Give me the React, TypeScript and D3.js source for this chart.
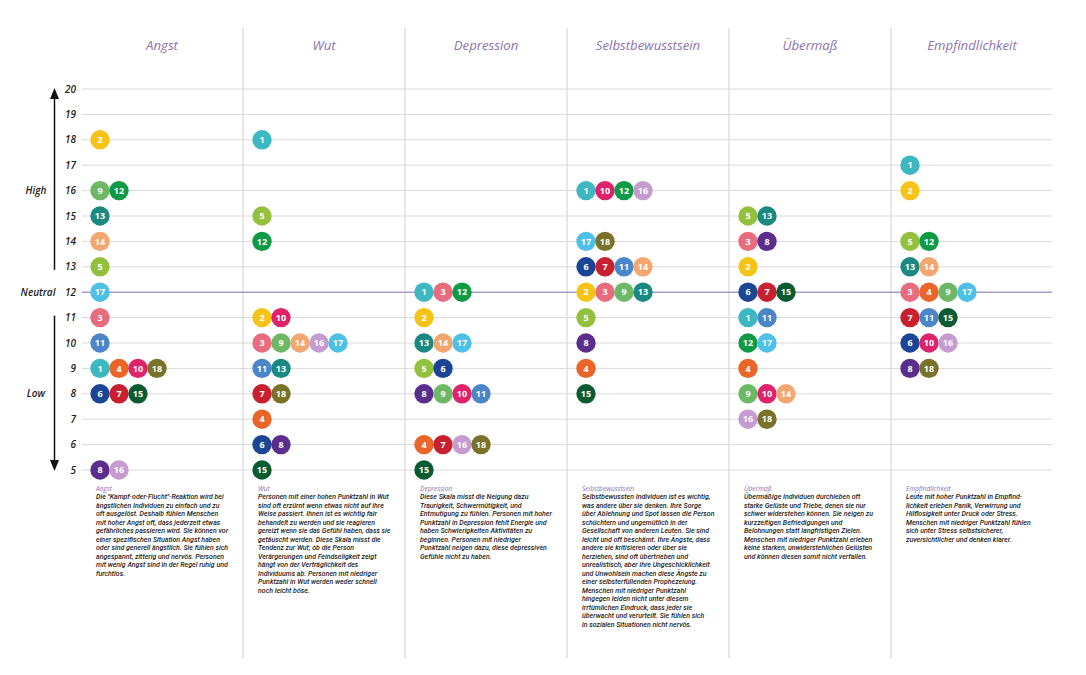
import React from "react";
import * as d3 from "d3";

const categories = ["Angst", "Wut", "Depression", "Selbstbewusstsein", "Übermaß", "Empfindlichkeit"];
const yTicks = [5, 6, 7, 8, 9, 10, 11, 12, 13, 14, 15, 16, 17, 18, 19, 20];
const levelLabels = [
  { label: "High", value: 16 },
  { label: "Neutral", value: 12 },
  { label: "Low", value: 8 },
];

const personColors: Record<number, string> = {
  1: "#3db8c1",
  2: "#f6c319",
  3: "#e96c7e",
  4: "#ea6528",
  5: "#93c13d",
  6: "#1d4596",
  7: "#c9202f",
  8: "#5b2d8c",
  9: "#6db865",
  10: "#df236b",
  11: "#4b86c8",
  12: "#0f9a47",
  13: "#1b8982",
  14: "#f2a771",
  15: "#0b5b30",
  16: "#c59bd0",
  17: "#4ec0e8",
  18: "#7a7228",
};

// score -> participants, per category
const angst: [number, number[]][] = [
  [18, [2]], [16, [9, 12]], [15, [13]], [14, [14]], [13, [5]], [12, [17]],
  [11, [3]], [10, [11]], [9, [1, 4, 10, 18]], [8, [6, 7, 15]], [5, [8, 16]],
];
const wut: [number, number[]][] = [
  [18, [1]], [15, [5]], [14, [12]], [11, [2, 10]], [10, [3, 9, 14, 16, 17]],
  [9, [11, 13]], [8, [7, 18]], [7, [4]], [6, [6, 8]], [5, [15]],
];
const depression: [number, number[]][] = [
  [12, [1, 3, 12]], [11, [2]], [10, [13, 14, 17]], [9, [5, 6]],
  [8, [8, 9, 10, 11]], [6, [4, 7, 16, 18]], [5, [15]],
];
const selbstbewusstsein: [number, number[]][] = [
  [16, [1, 10, 12, 16]], [14, [17, 18]], [13, [6, 7, 11, 14]], [12, [2, 3, 9, 13]],
  [11, [5]], [10, [8]], [9, [4]], [8, [15]],
];
const uebermass: [number, number[]][] = [
  [15, [5, 13]], [14, [3, 8]], [13, [2]], [12, [6, 7, 15]], [11, [1, 11]],
  [10, [12, 17]], [9, [4]], [8, [9, 10, 14]], [7, [16, 18]],
];
const empfindlichkeit: [number, number[]][] = [
  [17, [1]], [16, [2]], [14, [5, 12]], [13, [13, 14]], [12, [3, 4, 9, 17]],
  [11, [7, 11, 15]], [10, [6, 10, 16]], [9, [8, 18]],
];
const seriesValues = [angst, wut, depression, selbstbewusstsein, uebermass, empfindlichkeit];

const descAngst = [
  "Die \"Kampf-oder-Flucht\"-Reaktion wird bei",
  "ängstlichen Individuen zu einfach und zu",
  "oft ausgelöst. Deshalb fühlen Menschen",
  "mit hoher Angst oft, dass jederzeit etwas",
  "gefährliches passieren wird. Sie können vor",
  "einer spezifischen Situation Angst haben",
  "oder sind generell ängstlich. Sie fühlen sich",
  "angespannt, zitterig und nervös. Personen",
  "mit wenig Angst sind in der Regel ruhig und",
  "furchtlos.",
];
const descWut = [
  "Personen mit einer hohen Punktzahl in Wut",
  "sind oft erzürnt wenn etwas nicht auf ihre",
  "Weise passiert. Ihnen ist es wichtig fair",
  "behandelt zu werden und sie reagieren",
  "gereizt wenn sie das Gefühl haben, dass sie",
  "getäuscht werden. Diese Skala misst die",
  "Tendenz zur Wut; ob die Person",
  "Verärgerungen und Feindseligkeit zeigt",
  "hängt von der Verträglichkeit des",
  "Individuums ab. Personen mit niedriger",
  "Punktzahl in Wut werden weder schnell",
  "noch leicht böse.",
];
const descDepression = [
  "Diese Skala misst die Neigung dazu",
  "Traurigkeit, Schwermütigkeit, und",
  "Entmutigung zu fühlen. Personen mit hoher",
  "Punktzahl in Depression fehlt Energie und",
  "haben Schwierigkeiten Aktivitäten zu",
  "beginnen. Personen mit niedriger",
  "Punktzahl neigen dazu, diese depressiven",
  "Gefühle nicht zu haben.",
];
const descSelbst = [
  "Selbstbewussten Individuen ist es wichtig,",
  "was andere über sie denken. Ihre Sorge",
  "über Ablehnung und Spot lassen die Person",
  "schüchtern und ungemütlich in der",
  "Gesellschaft von anderen Leuten. Sie sind",
  "leicht und oft beschämt. Ihre Ängste, dass",
  "andere sie kritisieren oder über sie",
  "herziehen, sind oft übertrieben und",
  "unrealistisch, aber ihre Ungeschicklichkeit",
  "und Unwohlsein machen diese Ängste zu",
  "einer selbsterfüllenden Prophezeiung.",
  "Menschen mit niedriger Punktzahl",
  "hingegen leiden nicht unter diesem",
  "irrtümlichen Eindruck, dass jeder sie",
  "überwacht und verurteilt. Sie fühlen sich",
  "in sozialen Situationen nicht nervös.",
];
const descUebermass = [
  "Übermäßige Individuen durchleben oft",
  "starke Gelüste und Triebe, denen sie nur",
  "schwer widerstehen können. Sie neigen zu",
  "kurzzeitigen Befriedigungen und",
  "Belohnungen statt langfristigen Zielen.",
  "Menschen mit niedriger Punktzahl erleben",
  "keine starken, unwiderstehlichen Gelüsten",
  "und können diesen somit nicht verfallen.",
];
const descEmpf = [
  "Leute mit hoher Punktzahl in Empfind-",
  "lichkeit erleben Panik, Verwirrung und",
  "Hilflosigkeit unter Druck oder Stress.",
  "Menschen mit niedriger Punktzahl fühlen",
  "sich unter Stress selbstsicherer,",
  "zuversichtlicher und denken klarer.",
];
const descriptions = [descAngst, descWut, descDepression, descSelbst, descUebermass, descEmpf];

const W = 1086;
const H = 675;
const PURPLE = "#8c72ae";
const GRID = "#d9d9d9";
const FONT = "'Open Sans', 'Noto Sans', sans-serif";

export default function App() {
  const x = d3.scaleBand<string>().domain(categories).range([81, 1053]);
  const y = d3.scaleLinear().domain([5, 20]).range([470, 89]);
  const r = 9.7;
  const step = 19;
  const arrowX = 54.5;

  return (
    <svg
      width={W}
      height={H}
      viewBox={`0 0 ${W} ${H}`}
      style={{ position: "absolute", left: 0, top: 0, background: "#fff", display: "block" }}
    >
      <rect width={W} height={H} fill="#fff" />
      {/* vertical dividers */}
      {categories.slice(1).map((c) => (
        <line key={c} x1={x(c)!} x2={x(c)!} y1={28} y2={658} stroke="#cfcfcf" strokeWidth={1} />
      ))}
      {/* horizontal grid */}
      {yTicks.map((t) => (
        <line
          key={t}
          x1={82}
          x2={1052}
          y1={y(t)}
          y2={y(t)}
          stroke={t === 12 ? "#a79bcb" : GRID}
          strokeWidth={t === 12 ? 1.6 : 1}
        />
      ))}
      {/* tick labels */}
      {yTicks.map((t) => (
        <text
          key={"l" + t}
          x={76}
          y={y(t)}
          dy="0.35em"
          textAnchor="end"
          fontFamily={FONT}
          fontStyle="italic"
          fontWeight={600}
          fontSize={10}
          fill="#222"
        >
          {t}
        </text>
      ))}
      {levelLabels.map((l) => (
        <text
          key={l.label}
          x={l.label === "Neutral" ? 38 : 36}
          y={y(l.value)}
          dy="0.35em"
          textAnchor="middle"
          fontFamily={FONT}
          fontStyle="italic"
          fontWeight={600}
          fontSize={10}
          fill="#222"
        >
          {l.label}
        </text>
      ))}
      {/* arrows */}
      <line x1={arrowX} x2={arrowX} y1={y(13) + 3} y2={y(20) + 8} stroke="#111" strokeWidth={1.5} />
      <path
        d={`M${arrowX},${y(20) - 1} L${arrowX - 4.5},${y(20) + 10} L${arrowX + 4.5},${y(20) + 10} Z`}
        fill="#111"
      />
      <line x1={arrowX} x2={arrowX} y1={y(11) - 2} y2={y(5) - 8} stroke="#111" strokeWidth={1.5} />
      <path
        d={`M${arrowX},${y(5) + 1} L${arrowX - 4.5},${y(5) - 10} L${arrowX + 4.5},${y(5) - 10} Z`}
        fill="#111"
      />
      {/* headers */}
      {categories.map((c) => (
        <text
          key={"h" + c}
          x={x(c)! + x.bandwidth() / 2}
          y={50}
          textAnchor="middle"
          fontFamily={FONT}
          fontStyle="italic"
          fontSize={13.2}
          fill={PURPLE}
        >
          {c}
        </text>
      ))}
      {/* dots */}
      {categories.map((c, ci) =>
        seriesValues[ci].map(([score, people]) =>
          people.map((p, i) => {
            const cx = x(c)! + 19 + i * step;
            const cy = y(score);
            return (
              <g key={`${c}-${score}-${p}`}>
                <circle cx={cx} cy={cy} r={r} fill={personColors[p]} />
                <text
                  x={cx}
                  y={cy}
                  dy="0.36em"
                  textAnchor="middle"
                  fontFamily={FONT}
                  fontWeight={700}
                  fontSize={9}
                  fill="#fff"
                >
                  {p}
                </text>
              </g>
            );
          })
        )
      )}
      {/* descriptions */}
      {categories.map((c, ci) => (
        <g key={"d" + c} transform={`translate(${x(c)! + 15},0)`}>
          <text x={0} y={491} fontFamily={FONT} fontStyle="italic" fontSize={6.6} fill={PURPLE}>
            {c}
          </text>
          {descriptions[ci].map((line, li) => (
            <text
              key={li}
              x={0}
              y={499 + li * 8.5}
              fontFamily="Roboto, 'Open Sans', sans-serif"
              fontStyle="italic"
              fontWeight={500}
              fontSize={7}
              fill="#1a1a1a"
            >
              {line}
            </text>
          ))}
        </g>
      ))}
    </svg>
  );
}
